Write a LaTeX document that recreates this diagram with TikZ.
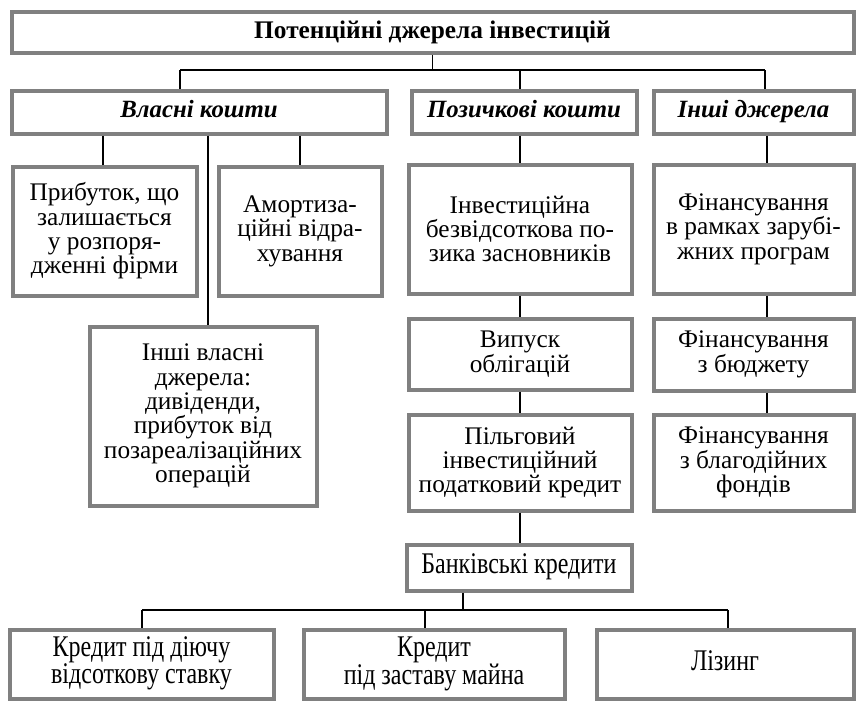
\documentclass[tikz,border=0pt]{standalone}
\usepackage{fontspec}
\usepackage{graphicx}
\setmainfont{Liberation Serif}
\definecolor{framegray}{RGB}{128,128,128}
\newcommand{\px}{0.75pt}
\newcommand{\narrowtext}[1]{\scalebox{0.8}[1]{\begin{tabular}{@{}c@{}}#1\end{tabular}}}
\begin{document}
\begin{tikzpicture}[x=0.75pt,y=-0.75pt,
    box/.style={draw=framegray,line width=3pt,fill=white,align=center,
      inner sep=2pt,font=\fontsize{19}{18.3}\selectfont},
    head/.style={box,font=\fontsize{18.6}{18}\selectfont\bfseries\itshape,
      text height=12.5pt,text depth=4pt},
    narrow/.style={box,font=\fontsize{22.5}{18}\selectfont},
    link/.style={line width=1.1pt}]
    \useasboundingbox (0,0) rectangle (858,703);
    % top level
    \node[box,minimum width=842*\px,minimum height=41*\px,font=\fontsize{19}{18}\selectfont\bfseries] (top) at (432.5,32) {Потенційні джерела інвестицій};
    \node[head,minimum width=375*\px,minimum height=43*\px] (own) at (199,112) {Власні кошти};
    \node[head,minimum width=225*\px,minimum height=43*\px] (loan) at (524,112) {Позичкові кошти};
    \node[head,minimum width=200*\px,minimum height=43*\px] (other) at (753.5,112) {Інші джерела};
    % own funds
    \node[box,minimum width=184*\px,minimum height=129*\px] (profit) at (104.5,231) {Прибуток, що\\залишається\\у розпоря-\\дженні фірми};
    \node[box,minimum width=163*\px,minimum height=129*\px] (amort) at (300,231) {Амортиза-\\ційні відра-\\хування};
    \node[box,minimum width=227*\px,minimum height=179*\px] (ownrest) at (203,416) {Інші власні\\джерела:\\дивіденди,\\прибуток від\\позареалізаційних\\операцій};
    % borrowed funds
    \node[box,minimum width=223*\px,minimum height=129*\px] (founders) at (520,229) {Інвестиційна\\безвідсоткова по-\\зика засновників};
    \node[box,minimum width=223*\px,minimum height=71*\px] (bonds) at (520,354) {Випуск\\облігацій};
    \node[box,minimum width=223*\px,minimum height=96*\px] (taxcr) at (520,462.5) {Пільговий\\інвестиційний\\податковий кредит};
    \node[narrow,minimum width=225*\px,minimum height=46*\px] (bank) at (519,567.5) {\narrowtext{Банківські кредити}};
    % other sources
    \node[box,minimum width=200*\px,minimum height=129*\px] (abroad) at (753.5,229) {Фінансування\\в рамках зарубі-\\жних програм};
    \node[box,minimum width=200*\px,minimum height=72*\px] (budget) at (753.5,354.5) {Фінансування\\з бюджету};
    \node[box,minimum width=200*\px,minimum height=96*\px] (charity) at (753.5,462.5) {Фінансування\\з благодійних\\фондів};
    % bank credits
    \node[narrow,minimum width=264*\px,minimum height=69*\px] (rate) at (141.5,664) {\narrowtext{Кредит під діючу\\відсоткову ставку}};
    \node[narrow,minimum width=261*\px,minimum height=69*\px] (pledge) at (434,664) {\narrowtext{Кредит\\під заставу майна}};
    \node[narrow,minimum width=257*\px,minimum height=69*\px] (leasing) at (725,664) {\narrowtext{Лізинг}};
    % buses
    \coordinate (busa) at (180,70);
    \coordinate (busb) at (765,70);
    \coordinate (busc) at (142,610);
    \coordinate (busd) at (728,610);
    \draw[link] (top.south) -- (top.south |- busa);
    \draw[link] (busa) -- (busb);
    \draw[link] (busa) -- (busa |- own.north);
    \draw[link] (520,70) -- (loan.north -| 520,0);
    \draw[link] (busb) -- (busb |- other.north);
    \draw[link] (own.south -| 103,0) -- (profit.north -| 103,0);
    \draw[link] (own.south -| 300,0) -- (amort.north);
    \draw[link] (own.south -| 208,0) -- (ownrest.north -| 208,0);
    \draw[link] (loan.south -| founders.north) -- (founders.north);
    \draw[link] (founders.south) -- (bonds.north);
    \draw[link] (bonds.south) -- (taxcr.north);
    \draw[link] (taxcr.south) -- (bank.north -| taxcr.south);
    \draw[link] (other.south -| 767,0) -- (abroad.north -| 767,0);
    \draw[link] (abroad.south -| 767,0) -- (budget.north -| 767,0);
    \draw[link] (budget.south -| 767,0) -- (charity.north -| 767,0);
    \draw[link] (bank.south -| 463,0) -- (busc -| 463,0);
    \draw[link] (busc) -- (busd);
    \draw[link] (busc) -- (busc |- rate.north);
    \draw[link] (busc -| 425,0) -- (pledge.north -| 425,0);
    \draw[link] (busd) -- (busd |- leasing.north);
  \end{tikzpicture}
\end{document}
